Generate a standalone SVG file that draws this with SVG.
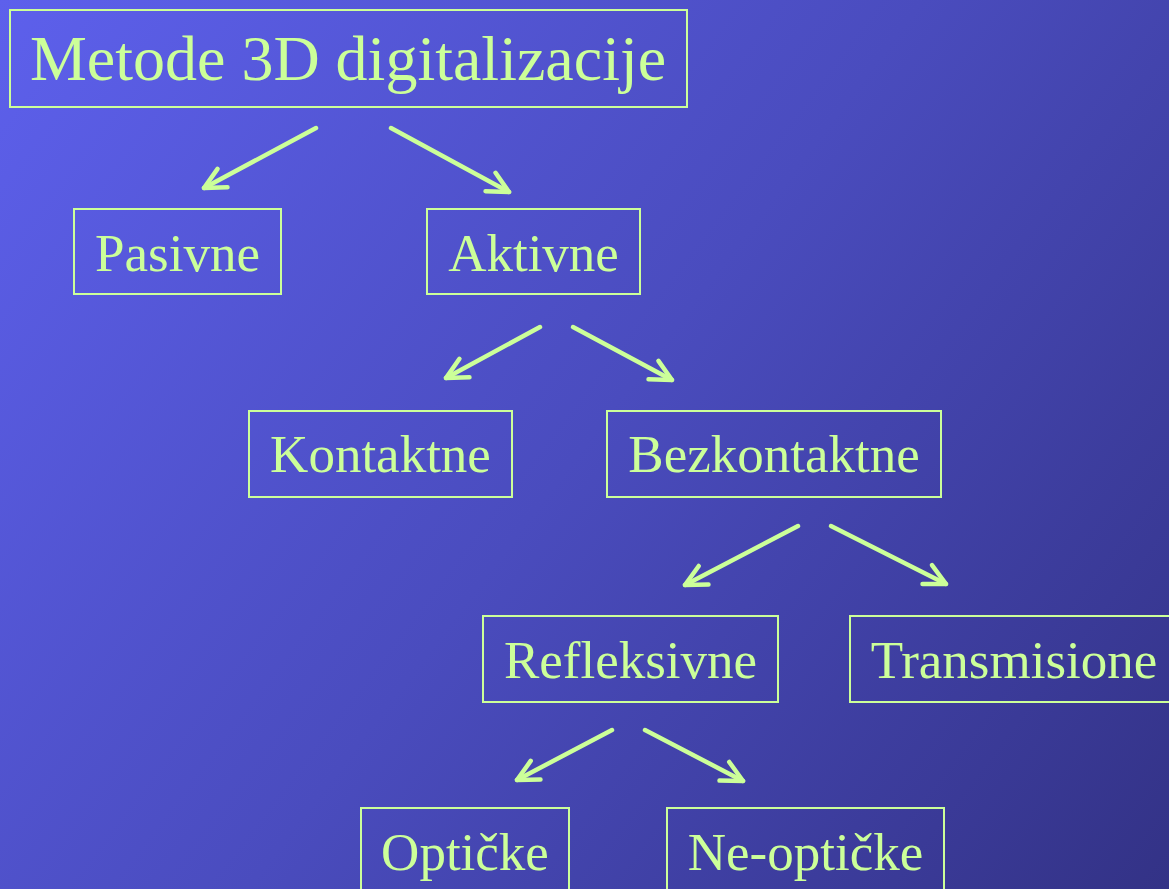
<svg xmlns="http://www.w3.org/2000/svg" width="1169" height="889" viewBox="0 0 1169 889">
<defs>
<linearGradient id="bg" x1="0" y1="0" x2="1169" y2="889" gradientUnits="userSpaceOnUse">
<stop offset="0" stop-color="#5d60ec"/>
<stop offset="0.5" stop-color="#4a4cbe"/>
<stop offset="1" stop-color="#333286"/>
</linearGradient>
<marker id="ah" markerUnits="userSpaceOnUse" markerWidth="40" markerHeight="40" viewBox="-30 -20 40 40" refX="0" refY="0" orient="auto" overflow="visible">
<path d="M-21,-10.5 L0,0 L-21,10.5" fill="none" stroke="#ccff99" stroke-width="4.5" stroke-linecap="round" stroke-linejoin="round"/>
</marker>
<style>
.box{fill:none;stroke:#ccff99;stroke-width:2}
.lbl{font-family:"Liberation Serif","Times New Roman",serif;fill:#ccff99;text-anchor:middle;font-size:53px}
.ttl{font-size:64px}
.arr{stroke:#ccff99;stroke-width:4.5;stroke-linecap:round;fill:none;marker-end:url(#ah)}
</style>
</defs>
<rect x="0" y="0" width="1169" height="889" fill="url(#bg)"/>
<g id="connectors">
<line class="arr" x1="316" y1="128" x2="204" y2="188"/>
<line class="arr" x1="391" y1="128" x2="509" y2="192"/>
<line class="arr" x1="540" y1="327" x2="446" y2="378"/>
<line class="arr" x1="573" y1="327" x2="672" y2="380"/>
<line class="arr" x1="798" y1="526" x2="685" y2="585"/>
<line class="arr" x1="831" y1="526" x2="946" y2="584"/>
<line class="arr" x1="612" y1="730" x2="517" y2="780"/>
<line class="arr" x1="645" y1="730" x2="743" y2="781"/>
</g>
<g id="n-metode"><rect class="box" x="10" y="10" width="677" height="97"/><text class="lbl ttl" x="348" y="80">Metode 3D digitalizacije</text></g>
<g id="n-pasivne"><rect class="box" x="74" y="209" width="207" height="85"/><text class="lbl" x="177.5" y="271">Pasivne</text></g>
<g id="n-aktivne"><rect class="box" x="427" y="209" width="213" height="85"/><text class="lbl" x="533.5" y="271">Aktivne</text></g>
<g id="n-kontaktne"><rect class="box" x="249" y="411" width="263" height="86"/><text class="lbl" x="380.5" y="472">Kontaktne</text></g>
<g id="n-bezkontaktne"><rect class="box" x="607" y="411" width="334" height="86"/><text class="lbl" x="774" y="472">Bezkontaktne</text></g>
<g id="n-refleksivne"><rect class="box" x="483" y="616" width="295" height="86"/><text class="lbl" x="630.5" y="678">Refleksivne</text></g>
<g id="n-transmisione"><rect class="box" x="850" y="616" width="328" height="86"/><text class="lbl" x="1014" y="678">Transmisione</text></g>
<g id="n-opticke"><rect class="box" x="361" y="808" width="208" height="90"/><text class="lbl" x="465" y="870">Optičke</text></g>
<g id="n-neopticke"><rect class="box" x="667" y="808" width="277" height="90"/><text class="lbl" x="805.5" y="870">Ne-optičke</text></g>
</svg>
